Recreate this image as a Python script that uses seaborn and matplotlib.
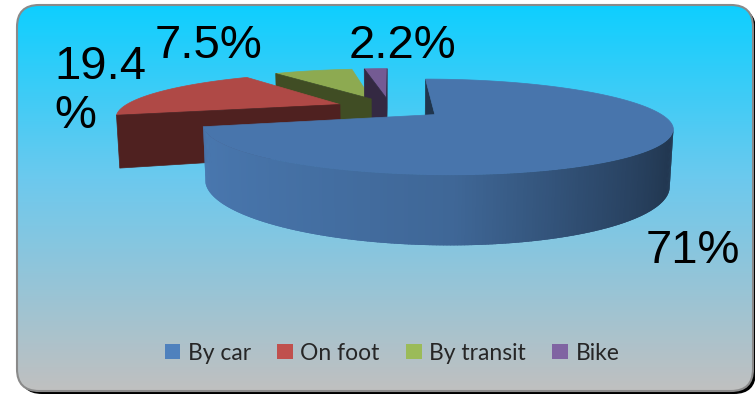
import numpy as np
import pandas as pd
import matplotlib
matplotlib.use("Agg")
import matplotlib.pyplot as plt
import seaborn as sns
from matplotlib.patches import Polygon, FancyBboxPatch, Patch
from matplotlib.colors import LinearSegmentedColormap

# Commute mode shares (%)
categories = ["By car", "On foot", "By transit", "Bike"]
shares = [71, 19.4, 7.5, 2.2]
base_colors = ["#4F81BD", "#C0504D", "#9BBB59", "#8064A2"]

# Data label layout (text origin of the last line in pixels, whether the label wraps)
label_origin = [(646, 263), (54, 128), (155, 58), (349, 58)]
label_wrap = [False, True, False, False]

W, H = 755, 398

sns.set_theme(style="white")
plt.rcParams["font.family"] = ["Liberation Sans", "DejaVu Sans"]

df = pd.DataFrame({"mode": categories, "share": shares})
palette = sns.color_palette(base_colors)

fig = plt.figure(figsize=(W / 100, H / 100), dpi=100)
fig.patch.set_facecolor("white")
ax = fig.add_axes([0, 0, 1, 1])

# ---- chart frame: drop shadow, gradient fill, grey border ----
x0, y0, x1, y1 = 17, 5, 753, 391
box = dict(boxstyle="round,pad=0,rounding_size=22")
ax.add_patch(FancyBboxPatch((x0 + 3, y0 + 3), x1 - x0, y1 - y0, fc="black", ec="none", zorder=0, **box))
bg_cmap = LinearSegmentedColormap.from_list(
    "bg", [(0.0, "#0ECFFF"), (0.45, "#6CC9EE"), (1.0, "#C0C0C0")])
img = ax.imshow(np.linspace(0, 1, 256)[:, None], cmap=bg_cmap, extent=(x0, x1, y1, y0),
                aspect="auto", zorder=1, interpolation="bilinear")
clip = FancyBboxPatch((x0, y0), x1 - x0, y1 - y0, fc="none", ec="none", **box)
ax.add_patch(clip)
img.set_clip_path(clip)
ax.add_patch(FancyBboxPatch((x0, y0), x1 - x0, y1 - y0, fc="none", ec="#8a8a8a", lw=1.5, zorder=4, **box))

# ---- 3-D exploded pie with a perspective camera ----
D, S, SE = 3.9, 218.0, 0.19          # camera distance, pixel scale, sin(elevation)
CE = np.sqrt(1 - SE ** 2)
CX, CY = 390.0, 108.0                # screen position of the pie centre (top face)
THICK, EXPLODE = 0.24, 0.25
cam = np.array([0.0, -D * CE, D * SE])
OVERLAP = np.deg2rad(0.4)            # strips overlap slightly so no seams show


def project(p):
    p = np.atleast_2d(p)
    d = D + p[:, 1] * CE - p[:, 2] * SE
    k = D / d
    xy = np.column_stack([CX + S * k * p[:, 0], CY - S * k * (p[:, 1] * SE + p[:, 2] * CE)])
    return xy, d


def side_shade(nx):
    return np.interp(nx, [-1, 0, 0.44, 0.87, 1], [0.93, 0.80, 0.60, 0.43, 0.41])


def rim(a, off, z):
    return off + np.array([np.cos(a), np.sin(a), z])


frac = df["share"] / df["share"].sum()
edges = 90.0 - 360.0 * np.concatenate([[0.0], np.cumsum(frac)])
down = np.array([0.0, 0.0, THICK])

faces = []
for i in range(len(df)):
    t_hi, t_lo = edges[i], edges[i + 1]
    mid = np.deg2rad((t_hi + t_lo) / 2)
    off = EXPLODE * np.array([np.cos(mid), np.sin(mid), 0.0])
    n = max(int(np.ceil((t_hi - t_lo) * 1.5)), 2)
    th = np.deg2rad(np.linspace(t_lo, t_hi, n + 1))
    rim_top = np.column_stack([np.cos(th), np.sin(th), np.zeros_like(th)]) + off
    base = np.array(palette[i])

    # top face
    xy, d = project(np.vstack([off, rim_top]))
    faces.append((d.mean(), xy, base * 0.91, 0.5))

    # curved outer wall, built from thin vertical strips
    for j in range(n):
        a0 = max(th[j] - OVERLAP, th[0])
        a1 = min(th[j + 1] + OVERLAP, th[-1])
        quad = np.array([rim(a0, off, 0), rim(a1, off, 0), rim(a1, off, -THICK), rim(a0, off, -THICK)])
        am = (th[j] + th[j + 1]) / 2
        nrm = np.array([np.cos(am), np.sin(am), 0.0])
        if np.dot(cam - quad.mean(0), nrm) <= 0:
            continue
        xy, d = project(quad)
        faces.append((d.mean(), xy, base * side_shade(np.cos(am)), 0.0))

    # radial cut faces
    for t, sgn in ((t_hi, 1.0), (t_lo, -1.0)):
        a = np.deg2rad(t)
        r_top = rim(a, off, 0)
        quad = np.array([off, r_top, r_top - down, off - down])
        nrm = np.array([np.cos(a + sgn * np.pi / 2), np.sin(a + sgn * np.pi / 2), 0.0])
        if np.dot(cam - quad.mean(0), nrm) <= 0:
            continue
        xy, d = project(quad)
        faces.append((d.mean(), xy, base * 0.41, 0.5))

for depth, xy, col, lw in sorted(faces, key=lambda f: -f[0]):
    col = np.clip(col, 0, 1)
    ax.add_patch(Polygon(xy, closed=True, fc=col, ec=col if lw > 0 else "none", lw=lw, zorder=2))

# ---- data labels ----
for i in range(len(df)):
    txt = f"{df['share'][i]:g}" + ("\n" if label_wrap[i] else "") + "%"
    ax.text(label_origin[i][0], label_origin[i][1], txt, fontsize=34, color="black",
            ha="left", va="baseline", linespacing=1.15, zorder=5)

# ---- legend ----
handles = [Patch(facecolor=palette[i], edgecolor="none", label=c) for i, c in enumerate(categories)]
fig.legend(handles=handles, loc="center", bbox_to_anchor=(392 / W, 1 - 353 / H), ncol=4,
           frameon=False, prop={"family": "Lato", "size": 16.5}, handlelength=0.68,
           handleheight=0.68, handletextpad=0.33, columnspacing=1.15, borderpad=0)

ax.set_xlim(0, W)
ax.set_ylim(H, 0)
ax.axis("off")
fig.savefig("out.png", dpi=100, facecolor="white")
